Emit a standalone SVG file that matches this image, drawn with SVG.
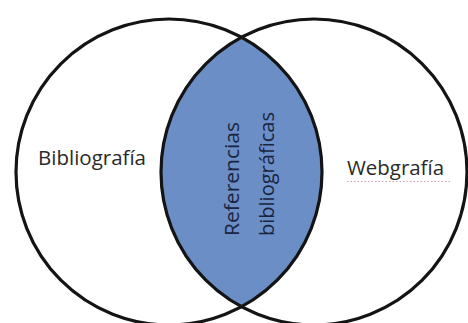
<svg xmlns="http://www.w3.org/2000/svg" width="468" height="323" viewBox="0 0 468 323">
<style>
.circle{fill:none;stroke:#141414;stroke-width:3.2}
.lens{fill:#6b8ec6;stroke:none}
.lbl{font-family:"Open Sans","Noto Sans",sans-serif;font-size:20px;fill:#2a2a2a}
.in{font-family:"Open Sans","Noto Sans",sans-serif;font-size:20px;fill:#1a2440}
</style>
<rect width="468" height="323" fill="#ffffff"/>
<g id="interseccion">
<path class="lens" d="M241.5,37.3 A153,153 0 0 1 241.5,306.7 A153,153 0 0 1 241.5,37.3 Z"/>
<text class="in" transform="translate(239,236) rotate(-90)" textLength="114" lengthAdjust="spacingAndGlyphs">Referencias</text>
<text class="in" transform="translate(274,236) rotate(-90)" textLength="124" lengthAdjust="spacingAndGlyphs">bibliográficas</text>
</g>
<g id="bibliografia">
<circle class="circle" cx="169" cy="172" r="153"/>
<text class="lbl" x="38" y="165" textLength="108" lengthAdjust="spacingAndGlyphs">Bibliografía</text>
</g>
<g id="webgrafia">
<circle class="circle" cx="314" cy="172" r="153"/>
<text class="lbl" x="347" y="175" textLength="97" lengthAdjust="spacingAndGlyphs">Webgrafía</text>
<line x1="347" y1="181.5" x2="451" y2="181.5" stroke="#d9a0a8" stroke-width="1" stroke-dasharray="1.5 2"/>
</g>
</svg>
